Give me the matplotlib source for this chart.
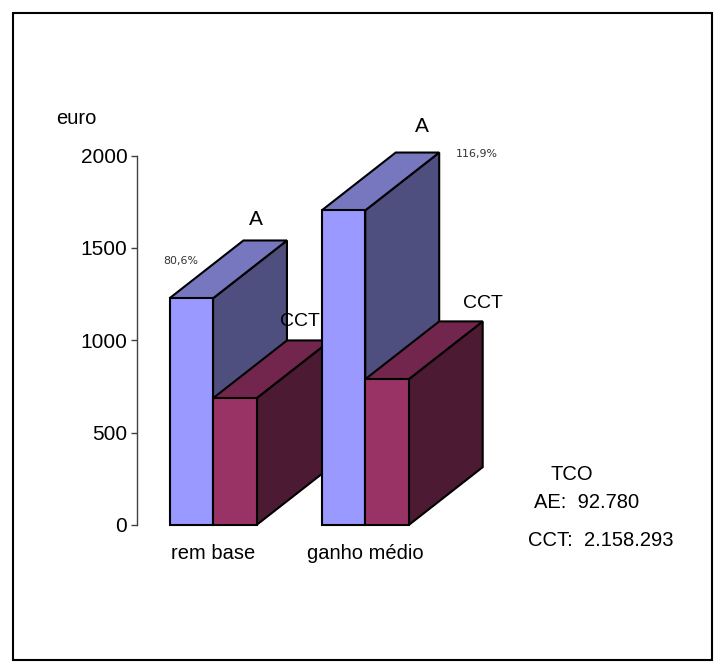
import matplotlib
matplotlib.use("Agg")
import matplotlib.pyplot as plt
from matplotlib.patches import Polygon, Rectangle

W = 723
H = 671

categories = ["rem base", "ganho médio"]
a_values = [1227, 1703]
cct_values = [686, 789]
y_ticks = [0, 500, 1000, 1500, 2000]
pct_labels = ["80,6%", "116,9%"]
info_lines = ["TCO", "AE:  92.780", "CCT:  2.158.293"]

plt.rcParams['font.family'] = ['Liberation Sans', 'DejaVu Sans']

def px(x, y):
  return (x / W, 1 - y / H)

# one bar as three faces, depth is in data units
def bar3d(ax, x0, x1, top, colors):
  dx = 1.7
  dy = 313
  front = [(x0, 0), (x1, 0), (x1, top), (x0, top)]
  roof = [(x0, top), (x1, top), (x1 + dx, top + dy), (x0 + dx, top + dy)]
  side = [(x1, 0), (x1 + dx, dy), (x1 + dx, top + dy), (x1, top)]
  for pts, c in zip([side, roof, front], colors):
    ax.add_patch(Polygon(pts, closed=True, facecolor=c, edgecolor="black", linewidth=1.5, clip_on=False, joinstyle="miter"))

fig = plt.figure(figsize=(W / 100, H / 100), dpi=100)
fig.add_artist(Rectangle(px(12.5, 660), 699.5 / W, 647.5 / H, transform=fig.transFigure, fill=False, edgecolor="black", linewidth=1.5))

left, bottom = px(137, 525)
ax = fig.add_axes([left, bottom, (500 - 137) / W, (525 - 155.5) / H])
ax.patch.set_alpha(0)
ax.set_xlim((137 - 213) / 43.5, (500 - 213) / 43.5)
ax.set_ylim(0, 2000)

a_colors = ["#4f4f7f", "#7777bf", "#9999ff"]
cct_colors = ["#4d1a33", "#73264d", "#993366"]
group_step = 3.5
for i in range(len(categories)):
  bar3d(ax, i * group_step - 1, i * group_step, a_values[i], a_colors)
  bar3d(ax, i * group_step, i * group_step + 1, cct_values[i], cct_colors)

for s in ["top", "right", "bottom"]:
  ax.spines[s].set_visible(False)
ax.spines["left"].set_color("#404040")
ax.spines["left"].set_linewidth(1)
ax.set_yticks(y_ticks)
ax.tick_params(axis="y", length=4.5, width=1, color="#404040", labelsize=15, pad=2.5)
ax.set_xticks([i * group_step for i in range(len(categories))])
ax.set_xticklabels(categories, fontsize=14.5)
ax.tick_params(axis="x", length=0, pad=14)

fig.text(*px(76, 118), "euro", fontsize=14.5, ha="center", va="center")
fig.text(*px(256, 220), "A", fontsize=15, ha="center", va="center")
fig.text(*px(422, 126), "A", fontsize=15, ha="center", va="center")
fig.text(*px(300, 322), "CCT", fontsize=14, ha="center", va="center")
fig.text(*px(483, 303), "CCT", fontsize=14, ha="center", va="center")
fig.text(*px(181, 261), pct_labels[0], fontsize=7.9, color="#333333", family="DejaVu Sans", ha="center", va="center")
fig.text(*px(477, 154), pct_labels[1], fontsize=7.9, color="#333333", family="DejaVu Sans", ha="center", va="center")
fig.text(*px(572, 474), info_lines[0], fontsize=14.5, ha="center", va="center")
fig.text(*px(587, 502), info_lines[1], fontsize=14.5, ha="center", va="center")
fig.text(*px(601, 540), info_lines[2], fontsize=14.5, ha="center", va="center")

fig.savefig("out.png", dpi=100)
